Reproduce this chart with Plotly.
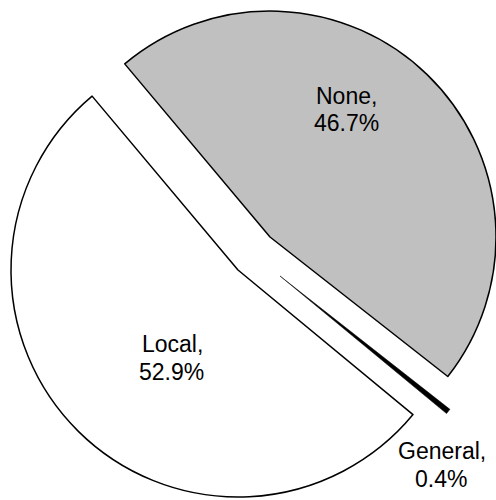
import plotly.graph_objects as go

# ---- data ----
labels = ["None", "General", "Local"]
values = [46.7, 0.4, 52.9]
slice_colors = ["#c0c0c0", "#000000", "#ffffff"]

# ---- layout/style (pixels) ----
W, H = 496, 500
ROTATION = -40
apex_px = {"None": (270, 237), "General": (280, 276), "Local": (238, 270)}
radius_px = {"None": 226, "General": 216, "Local": 227}
line_w = {"None": 1.5, "General": 0.5, "Local": 1.5}
# label line centres (pixels)
label_px = {
    "None": [(346.5, 96), (346, 123)],
    "Local": [(172, 344), (171, 371.5)],
    "General": [(442, 450.5), (441, 478.5)],
}
FONT = dict(family="Arial, Liberation Sans, sans-serif", size=23, color="black")

fig = go.Figure()
for i, lab in enumerate(labels):
    ax, ay = apex_px[lab]
    r = radius_px[lab]
    x0 = max(0.0, (ax - r) / W)
    x1 = min(1.0, (ax + r) / W)
    y0 = max(0.0, 1 - (ay + r) / H)
    y1 = min(1.0, 1 - (ay - r) / H)
    colors = [c if j == i else "rgba(0,0,0,0)" for j, c in enumerate(slice_colors)]
    widths = [line_w[lab] if j == i else 0 for j in range(len(labels))]
    fig.add_trace(go.Pie(
        labels=labels,
        values=values,
        sort=False,
        direction="clockwise",
        rotation=ROTATION,
        marker=dict(colors=colors, line=dict(color="black", width=widths)),
        textinfo="none",
        hoverinfo="skip",
        domain=dict(x=[x0, x1], y=[y0, y1]),
        showlegend=False,
    ))

annotations = []
for lab, val in zip(labels, values):
    (x1p, y1p), (x2p, y2p) = label_px[lab]
    for txt, (px, py) in ((f"{lab},", (x1p, y1p)), (f"{val}%", (x2p, y2p))):
        annotations.append(dict(
            text=txt, x=px / W, y=1 - py / H, xref="paper", yref="paper",
            xanchor="center", yanchor="middle", showarrow=False, font=FONT,
        ))

fig.update_layout(
    width=W, height=H,
    margin=dict(l=0, r=0, t=0, b=0),
    paper_bgcolor="white", plot_bgcolor="white",
    showlegend=False,
    annotations=annotations,
)

fig.write_html("out.html")
